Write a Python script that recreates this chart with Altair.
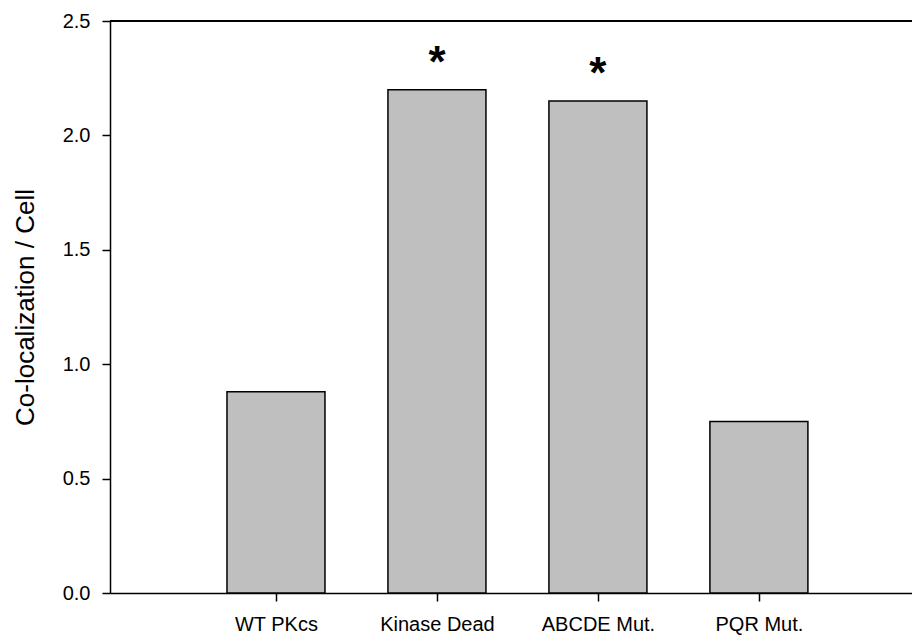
import altair as alt
import pandas as pd

categories = ["WT PKcs", "Kinase Dead", "ABCDE Mut.", "PQR Mut."]
positions = [1, 2, 3, 4]
values = [0.88, 2.20, 2.15, 0.75]
stars = ["", "*", "*", ""]

df = pd.DataFrame({"pos": positions, "cat": categories, "val": values, "star": stars})

FONT = "Liberation Sans"
label_expr = ("datum.value == 1 ? 'WT PKcs' : datum.value == 2 ? 'Kinase Dead' : "
              "datum.value == 3 ? 'ABCDE Mut.' : datum.value == 4 ? 'PQR Mut.' : ''")

x = alt.X("pos:Q", scale=alt.Scale(domain=[0, 4.92], nice=False, zero=False),
          axis=alt.Axis(values=positions, labelExpr=label_expr, title=None, grid=False,
                        tickSize=8, tickColor="black", domainColor="black", domainWidth=1.5,
                        tickWidth=1.5, labelFont=FONT, labelFontSize=20, labelColor="black",
                        labelPadding=13))
y = alt.Y("val:Q", scale=alt.Scale(domain=[0, 2.5], nice=False),
          axis=alt.Axis(values=[0, 0.5, 1.0, 1.5, 2.0, 2.5], format=".1f",
                        title="Co-localization / Cell", grid=False, tickSize=8,
                        tickColor="black", domainColor="black", domainWidth=1.5, tickWidth=1.5,
                        labelFont=FONT, labelFontSize=20, labelColor="black", labelPadding=12,
                        titleFont=FONT, titleFontSize=26, titleFontWeight="normal",
                        titleColor="black", titlePadding=24))

bars = alt.Chart(df).mark_bar(size=98, fill="#bfbfbf", stroke="black", strokeWidth=1.5).encode(
    x=x, y=y)

text = alt.Chart(df).mark_text(font=FONT, fontSize=44, fontWeight="bold", color="black",
                               baseline="alphabetic", dy=-13).encode(
    x="pos:Q", y="val:Q", text="star:N")

top = alt.Chart(df).mark_rule(color="black", strokeWidth=1.5).encode(y=alt.datum(2.5))

chart = alt.layer(bars, text, top).properties(
    width=802, height=572,
    padding={"left": 110, "top": 21, "right": 0, "bottom": 47},
    autosize=alt.AutoSizeParams(type="none"),
).configure_view(stroke=None).configure(background="white")

chart.save("out.html", embed_options={"renderer": "svg", "actions": False})
